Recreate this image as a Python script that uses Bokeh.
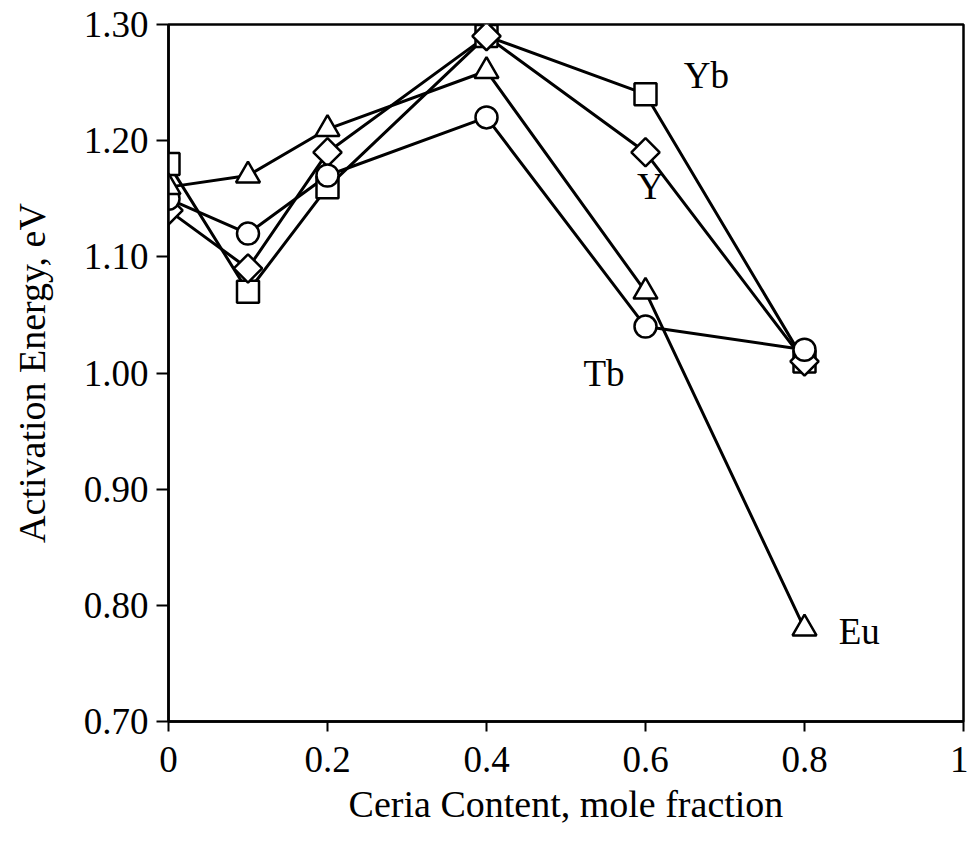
import math
from bokeh.plotting import figure
from bokeh.models import FixedTicker, Label
from bokeh.embed import file_html
from bokeh.resources import INLINE

x = [0.0, 0.1, 0.2, 0.4, 0.6, 0.8]
yb = [1.18, 1.07, 1.16, 1.29, 1.24, 1.01]
y_y = [1.14, 1.09, 1.19, 1.29, 1.19, 1.01]
tb = [1.15, 1.12, 1.17, 1.22, 1.04, 1.02]
eu = [1.16, 1.17, 1.21, 1.26, 1.07, 0.78]

x_ticks = [0, 0.2, 0.4, 0.6, 0.8, 1.0]
x_tick_labels = ["0", "0.2", "0.4", "0.6", "0.8", "1"]
y_ticks = [0.70, 0.80, 0.90, 1.00, 1.10, 1.20, 1.30]
y_tick_labels = ["0.70", "0.80", "0.90", "1.00", "1.10", "1.20", "1.30"]

series_names = ["Yb", "Y", "Tb", "Eu"]
label_x = [0.648, 0.606, 0.522, 0.843]
label_y = [1.256, 1.1605, 1.0, 0.7775]
label_align = ["left", "center", "left", "left"]

FONT = "Liberation Serif"

p = figure(width=968, height=841, x_range=(0, 1), y_range=(0.70, 1.30),
           output_backend="svg", toolbar_location=None,
           min_border_left=168, min_border_right=5, min_border_top=24, min_border_bottom=120)
p.xgrid.visible = False
p.ygrid.visible = False
p.outline_line_color = "black"
p.outline_line_width = 2.5
p.background_fill_color = "white"
p.border_fill_color = "white"

p.xaxis.ticker = FixedTicker(ticks=x_ticks)
p.xaxis.major_label_overrides = {t: l for t, l in zip(x_ticks, x_tick_labels)}
p.yaxis.ticker = FixedTicker(ticks=y_ticks)
p.yaxis.major_label_overrides = {t: l for t, l in zip(y_ticks, y_tick_labels)}

for ax in (p.xaxis, p.yaxis):
    ax.axis_line_width = 2.5
    ax.axis_line_color = "black"
    ax.major_tick_line_width = 2
    ax.major_tick_in = 0
    ax.minor_tick_line_color = None
    ax.major_label_text_font = FONT
    ax.major_label_text_font_size = "37px"
    ax.major_label_text_color = "black"
    ax.axis_label_text_font = FONT
    ax.axis_label_text_font_size = "38px"
    ax.axis_label_text_font_style = "normal"
    ax.axis_label_text_color = "black"

p.xaxis.major_tick_out = 10
p.yaxis.major_tick_out = 12
p.xaxis.axis_label = "Ceria Content, mole fraction"
p.yaxis.axis_label = "Activation Energy, eV"
p.xaxis.major_label_standoff = 15
p.yaxis.major_label_standoff = 8
p.xaxis.axis_label_standoff = 8
p.yaxis.axis_label_standoff = 28

data = [yb, y_y, tb, eu]
markers = ["square", "square", "circle", "triangle"]
sizes = [22, 20, 22, 24]
angles = [0, math.pi / 4, 0, 0]

for vals in data:
    p.line(x, vals, line_color="black", line_width=3)
for vals, m, s, a in zip(data, markers, sizes, angles):
    p.scatter(x, vals, marker=m, size=s, angle=a, fill_color="white",
              line_color="black", line_width=2.5)

for name, lx, ly, al in zip(series_names, label_x, label_y, label_align):
    p.add_layout(Label(x=lx, y=ly, text=name, text_font=FONT, text_font_size="37px",
                       text_baseline="middle", text_align=al, text_color="black"))

open("out.html", "w").write(file_html(p, INLINE))
